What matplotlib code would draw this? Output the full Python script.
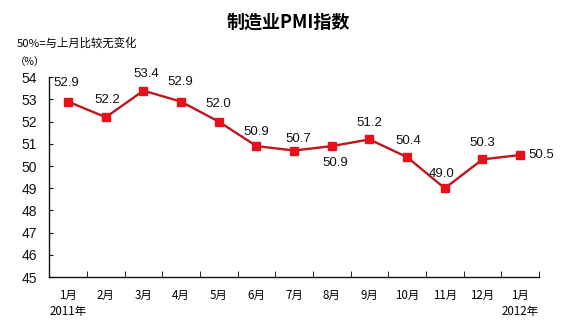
import matplotlib
matplotlib.use("Agg")
import matplotlib.pyplot as plt
from matplotlib.ticker import FixedLocator

plt.rcParams["font.family"] = ["Liberation Sans", "Noto Sans CJK SC", "DejaVu Sans"]

# ── Data ─────────────────────────────────────────────────────────────────────
months = ["1月\n2011年", "2月", "3月", "4月", "5月", "6月", "7月",
          "8月", "9月", "10月", "11月", "12月", "1月\n2012年"]
pmi = [52.9, 52.2, 53.4, 52.9, 52.0, 50.9, 50.7, 50.9, 51.2, 50.4, 49.0, 50.3, 50.5]

# label offsets in pixels (dx, dy), tuned by eye
label_offsets = [(-2, 19), (1, 17), (3, 17), (-1, 20), (-1, 18), (0, 14), (4, 12),
                 (3, -17), (0, 16), (1, 16), (-3, 14), (0, 16), (8, 0)]

LINE_RED = "#C0141E"
MARK_RED = "#E8101A"
CJK = ["Noto Sans CJK SC", "DejaVu Sans"]

fig = plt.figure(figsize=(5.67, 3.24), dpi=100)
ax = fig.add_axes([0.087, 0.145, 0.8636, 0.6164])

x = list(range(len(pmi)))
ax.plot(x, pmi, color=LINE_RED, linewidth=1.7, marker="s", markersize=5.2,
        markerfacecolor=MARK_RED, markeredgecolor=MARK_RED, zorder=3)

for i, (v, (dx, dy)) in enumerate(zip(pmi, label_offsets)):
    ha = "left" if i == len(pmi) - 1 else "center"
    ax.annotate(f"{v:.1f}", (i, v), xytext=(dx, dy), textcoords="offset pixels",
                ha=ha, va="center", fontsize=9.5, color="#111111")

ax.set_xlim(-0.5, len(pmi) - 0.5)
ax.set_ylim(45, 54)
ax.set_yticks(range(45, 55))
ax.tick_params(axis="y", direction="in", length=3, pad=9, labelsize=10,
               colors="#111111")

ax.set_xticks(x)
ax.set_xticklabels(months, fontsize=8.3, family=CJK, linespacing=1.35)
ax.xaxis.set_minor_locator(FixedLocator([i + 0.5 for i in x]))
ax.tick_params(axis="x", which="major", length=0, pad=8.5)
ax.tick_params(axis="x", which="minor", direction="in", length=4)
for lbl in ax.get_xticklabels():
    lbl.set_verticalalignment("top")

for side in ("top", "right"):
    ax.spines[side].set_visible(False)
for side in ("left", "bottom"):
    ax.spines[side].set_linewidth(1.0)
    ax.spines[side].set_color("#111111")

fig.text(0.508, 0.932, "制造业PMI指数", ha="center", va="center",
         fontsize=13, fontweight="bold", family=CJK)
fig.text(0.030, 0.868, "50%=与上月比较无变化", ha="left", va="center",
         fontsize=8.2, family=CJK)
fig.text(0.026, 0.808, "（%）", ha="left", va="center", fontsize=7.5, family=CJK)

fig.savefig("out.png", dpi=100)
